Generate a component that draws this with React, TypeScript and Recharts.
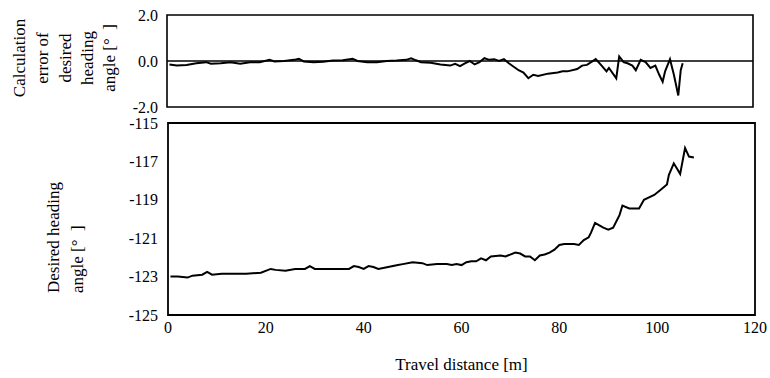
import React from 'react';
import { LineChart, Line, XAxis, YAxis, ReferenceLine, ReferenceArea, Label } from 'recharts';

// Travel distance [m] for the calculation error trace
const errDistance = [
  0.5, 2, 4, 6, 8, 9, 11, 13, 15, 17, 19, 21, 22, 24, 26, 27, 28, 30, 32, 34, 36, 38, 39, 41, 43, 45,
  47, 49, 50, 51, 52, 54, 56, 58, 59, 60, 61, 62, 63, 64, 65, 66, 67, 68, 69, 70, 71, 72, 73, 74, 75,
  76, 78, 80, 81, 82, 84, 85, 86, 87.8, 89, 90, 90.5, 92, 92.6, 93.5, 94.3, 95.3, 96, 97, 98, 99, 100,
  100.8, 101.5, 102, 103, 103.8, 104.7, 105.2, 105.6,
];
// Calculation error of desired heading angle [deg]
const errValue = [
  -0.15, -0.2, -0.17, -0.1, -0.05, -0.12, -0.1, -0.05, -0.12, -0.05, -0.05, 0.05, -0.02, 0.0, 0.05, 0.1,
  -0.02, -0.05, -0.03, 0.02, 0.03, 0.1, 0.0, -0.05, -0.05, 0.0, 0.02, 0.05, 0.12, 0.03, -0.05, -0.08,
  -0.15, -0.2, -0.12, -0.22, -0.1, 0.0, -0.15, -0.05, 0.12, 0.05, 0.08, 0.0, 0.08, -0.1, -0.25, -0.4,
  -0.5, -0.75, -0.6, -0.65, -0.55, -0.5, -0.45, -0.45, -0.35, -0.2, -0.17, 0.08, -0.2, -0.45, -0.3,
  -0.75, 0.2, -0.05, -0.1, -0.2, -0.4, 0.05, -0.05, -0.3, -0.2, -0.6, -0.9, -0.45, 0.08, -0.6, -1.5,
  -0.4, -0.1,
];

// Travel distance [m] for the desired heading trace
const headDistance = [
  0.5, 2, 4, 5, 7, 8, 9, 11, 13, 16, 19, 21, 22, 24, 26, 28, 29, 30, 33, 37, 38, 39, 40, 41, 42, 43,
  45, 47, 48, 50, 52, 53, 55, 57, 58, 59, 60, 61, 62, 63, 64, 65, 66, 68, 69, 71, 72, 73, 74, 75, 76,
  77, 78, 79, 80, 81, 83, 84, 85, 86, 86.5, 87.3, 88, 89, 90, 91, 92.3, 92.9, 94.3, 96.3, 97.3, 99.4,
  100.6, 102, 102.4, 103.4, 104.7, 105.7, 106.5, 107.5,
];
// Desired heading angle [deg]
const headValue = [
  -123.0, -123.0, -123.05, -122.95, -122.9, -122.75, -122.9, -122.85, -122.85, -122.85, -122.8, -122.6,
  -122.65, -122.7, -122.6, -122.6, -122.45, -122.6, -122.6, -122.6, -122.45, -122.5, -122.6, -122.45,
  -122.5, -122.6, -122.5, -122.4, -122.35, -122.25, -122.3, -122.4, -122.35, -122.35, -122.4, -122.35,
  -122.4, -122.25, -122.2, -122.2, -122.05, -122.15, -121.95, -121.9, -121.95, -121.75, -121.8, -121.95,
  -121.95, -122.15, -121.9, -121.85, -121.75, -121.6, -121.35, -121.3, -121.3, -121.35, -121.1, -120.95,
  -120.7, -120.2, -120.3, -120.45, -120.55, -120.45, -119.8, -119.3, -119.45, -119.45, -119.0, -118.75,
  -118.5, -118.2, -117.7, -117.1, -117.65, -116.3, -116.75, -116.8,
];

const xTicks = [0, 20, 40, 60, 80, 100, 120];
const errTicks = [-2, 0, 2];
const headTicks = [-125, -123, -121, -119, -117, -115];

const errData = errDistance.map((d, i) => ({ d, v: errValue[i] }));
const headData = headDistance.map((d, i) => ({ d, v: headValue[i] }));

const font = '"Liberation Serif", "Times New Roman", serif';

const YTick = ({ x, y, payload, fmt }: any) => (
  <text x={x} y={y} textAnchor="end" dominantBaseline="central" fontSize={16} fill="#000">
    {fmt ? fmt(payload.value) : payload.value}
  </text>
);

const XTick = ({ x, y, payload }: any) => (
  <text x={x} y={y + 10} textAnchor="middle" fontSize={16} fill="#000">
    {payload.value}
  </text>
);

const RotatedLines = ({ viewBox, lines, cols, anchor, yPos }: any) => {
  const cy = yPos != null ? yPos : viewBox.y + viewBox.height / 2;
  return (
    <g>
      {lines.map((t: string, i: number) => (
        <text
          key={i}
          x={cols[i]}
          y={cy}
          transform={`rotate(-90, ${cols[i]}, ${cy})`}
          textAnchor={anchor}
          dominantBaseline="central"
          fontSize={17}
          fill="#000"
        >
          {t}
        </text>
      ))}
    </g>
  );
};

export default function App() {
  return (
    <div style={{ position: 'absolute', left: 0, top: 0, width: 770, height: 378, background: '#fff', fontFamily: font }}>
      <style>{`svg text { font-family: "Liberation Serif", "Times New Roman", serif !important; }`}</style>
      <div style={{ position: 'absolute', left: 0, top: 0 }}>
        <LineChart width={770} height={122} data={errData} margin={{ top: 15, right: 17, bottom: 15, left: 0 }}>
          <XAxis dataKey="d" type="number" domain={[0, 120]} ticks={xTicks} hide />
          <YAxis
            type="number"
            domain={[-2, 2]}
            ticks={errTicks}
            width={167}
            axisLine={false}
            tickLine={false}
            tickMargin={3}
            tick={<YTick fmt={(v: number) => v.toFixed(1)} />}
            label={
              <Label
                content={(p: any) => (
                  <RotatedLines
                    {...p}
                    lines={['Calculation', 'error of', 'desired', 'heading', 'angle [°\u00a0\u00a0]']}
                    cols={[19, 42, 65, 87, 109]}
                    anchor="middle"
                    yPos={58}
                  />
                )}
              />
            }
          />
          <ReferenceArea x1={0} x2={120} y1={-2} y2={2} fill="none" stroke="#000" strokeWidth={1.6} />
          <ReferenceLine y={0} stroke="#000" strokeWidth={1.3} />
          <Line type="linear" dataKey="v" stroke="#000" strokeWidth={2} dot={false} isAnimationActive={false} />
        </LineChart>
      </div>
      <div style={{ position: 'absolute', left: 0, top: 110 }}>
        <LineChart width={770} height={268} data={headData} margin={{ top: 13, right: 15, bottom: 0, left: 0 }}>
          <XAxis
            dataKey="d"
            type="number"
            domain={[0, 120]}
            ticks={xTicks}
            height={63}
            axisLine={false}
            tickLine={false}
            tick={<XTick />}
          >
            <Label value="Travel distance [m]" position="insideBottom" offset={8} fill="#000" fontSize={17} />
          </XAxis>
          <YAxis
            type="number"
            domain={[-125, -115]}
            ticks={headTicks}
            width={168}
            axisLine={false}
            tickLine={false}
            tickMargin={4}
            tick={<YTick />}
            label={
              <Label
                content={(p: any) => (
                  <RotatedLines
                    {...p}
                    lines={['Desired heading', 'angle [°\u00a0\u00a0]']}
                    cols={[53, 77]}
                    anchor="start"
                    yPos={183}
                  />
                )}
              />
            }
          />
          <ReferenceArea x1={0} x2={120} y1={-125} y2={-115} fill="none" stroke="#000" strokeWidth={1.8} />
          <Line type="linear" dataKey="v" stroke="#000" strokeWidth={2} dot={false} isAnimationActive={false} />
        </LineChart>
      </div>
    </div>
  );
}
